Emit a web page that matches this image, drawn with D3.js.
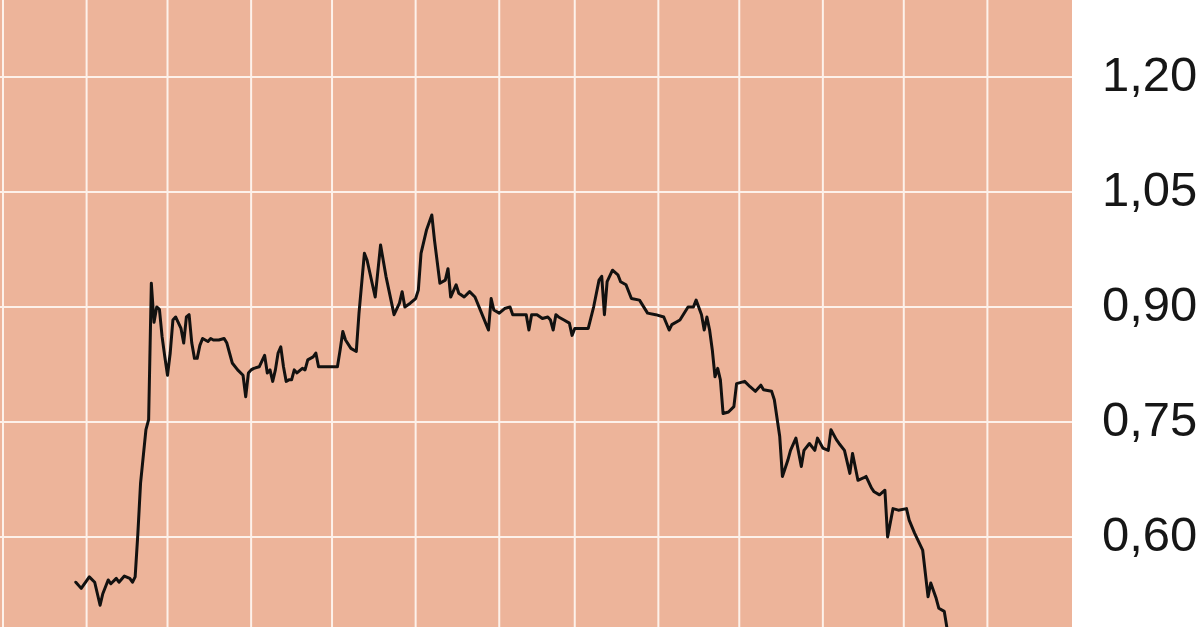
<!DOCTYPE html>
<html>
<head>
<meta charset="utf-8">
<script src="https://cdn.jsdelivr.net/npm/d3@7"></script>
<style>
html,body{margin:0;padding:0;background:#fff;overflow:hidden;}
svg{display:block;}
</style>
</head>
<body>
<svg id="chart" width="1200" height="627"></svg>
<script>
const dates = [
"2021-08-28","2021-08-30","2021-09-02","2021-09-04","2021-09-06","2021-09-07","2021-09-09","2021-09-10","2021-09-12","2021-09-13",
"2021-09-15","2021-09-17","2021-09-18","2021-09-19","2021-09-20","2021-09-21","2021-09-23","2021-09-24","2021-09-25","2021-09-26",
"2021-09-27","2021-09-28","2021-09-29","2021-09-30","2021-10-01","2021-10-02","2021-10-03","2021-10-04","2021-10-06","2021-10-07",
"2021-10-08","2021-10-09","2021-10-10","2021-10-11","2021-10-12","2021-10-13","2021-10-14","2021-10-16","2021-10-17","2021-10-18",
"2021-10-20","2021-10-22","2021-10-23","2021-10-24","2021-10-25","2021-10-27","2021-10-29","2021-10-30","2021-10-31","2021-11-01",
"2021-11-02","2021-11-04","2021-11-06","2021-11-07","2021-11-08","2021-11-09","2021-11-10","2021-11-11","2021-11-12","2021-11-13",
"2021-11-14","2021-11-15","2021-11-16","2021-11-17","2021-11-18","2021-11-20","2021-11-21","2021-11-22","2021-11-24","2021-11-25",
"2021-11-26","2021-12-03","2021-12-04","2021-12-05","2021-12-06","2021-12-08","2021-12-10","2021-12-11","2021-12-13","2021-12-14",
"2021-12-17","2021-12-19","2021-12-21","2021-12-24","2021-12-26","2021-12-27","2021-12-28","2021-12-30","2022-01-01","2022-01-02",
"2022-01-03","2022-01-05","2022-01-07","2022-01-08","2022-01-10","2022-01-12","2022-01-13","2022-01-14","2022-01-16","2022-01-17",
"2022-01-19","2022-01-21","2022-01-23","2022-01-25","2022-01-28","2022-01-29","2022-01-30","2022-02-01","2022-02-03","2022-02-05",
"2022-02-06","2022-02-11","2022-02-12","2022-02-13","2022-02-15","2022-02-17","2022-02-19","2022-02-20","2022-02-21","2022-02-22",
"2022-02-23","2022-02-25","2022-02-27","2022-02-28","2022-03-01","2022-03-06","2022-03-08","2022-03-10","2022-03-11","2022-03-12",
"2022-03-13","2022-03-15","2022-03-17","2022-03-18","2022-03-20","2022-03-22","2022-03-25","2022-03-28","2022-03-31","2022-04-03",
"2022-04-05","2022-04-06","2022-04-09","2022-04-12","2022-04-14","2022-04-15","2022-04-17","2022-04-18","2022-04-19","2022-04-20",
"2022-04-21","2022-04-22","2022-04-23","2022-04-24","2022-04-25","2022-04-27","2022-04-29","2022-04-30","2022-05-03","2022-05-05",
"2022-05-07","2022-05-09","2022-05-10","2022-05-13","2022-05-14","2022-05-16","2022-05-17","2022-05-19","2022-05-20","2022-05-22",
"2022-05-24","2022-05-25","2022-05-27","2022-05-29","2022-05-30","2022-06-01","2022-06-03","2022-06-04","2022-06-06","2022-06-07",
"2022-06-09","2022-06-11","2022-06-12","2022-06-14","2022-06-16","2022-06-17","2022-06-19","2022-06-20","2022-06-22","2022-06-24",
"2022-06-25","2022-06-27","2022-06-29","2022-07-02","2022-07-03","2022-07-05","2022-07-08","2022-07-10","2022-07-11","2022-07-13",
"2022-07-14","2022-07-16","2022-07-18"
];
const values = [
0.541,0.533,0.548,0.541,0.511,0.526,0.544,0.539,0.546,0.541,
0.549,0.546,0.541,0.548,0.604,0.670,0.740,0.753,0.931,0.880,
0.900,0.897,0.861,0.835,0.811,0.840,0.883,0.887,0.872,0.853,
0.887,0.890,0.853,0.833,0.833,0.850,0.859,0.855,0.859,0.857,
0.857,0.859,0.853,0.840,0.827,0.818,0.811,0.783,0.814,0.818,
0.820,0.822,0.837,0.814,0.818,0.803,0.818,0.840,0.848,0.822,
0.803,0.805,0.805,0.818,0.814,0.820,0.818,0.831,0.835,0.840,
0.822,0.822,0.844,0.868,0.857,0.846,0.842,0.892,0.970,0.961,
0.913,0.981,0.940,0.890,0.905,0.920,0.900,0.905,0.911,0.922,
0.970,1.000,1.020,0.987,0.931,0.935,0.950,0.913,0.929,0.918,
0.913,0.920,0.913,0.896,0.870,0.911,0.896,0.892,0.898,0.900,
0.890,0.890,0.870,0.890,0.890,0.885,0.887,0.883,0.870,0.890,
0.887,0.883,0.879,0.863,0.872,0.872,0.900,0.935,0.940,0.890,
0.933,0.948,0.942,0.933,0.929,0.911,0.909,0.892,0.890,0.887,
0.870,0.877,0.883,0.900,0.900,0.909,0.890,0.870,0.887,0.870,
0.844,0.809,0.820,0.805,0.761,0.763,0.770,0.800,0.803,0.796,
0.790,0.798,0.792,0.790,0.779,0.731,0.679,0.700,0.713,0.729,
0.692,0.713,0.722,0.713,0.729,0.716,0.713,0.740,0.727,0.722,
0.713,0.683,0.709,0.674,0.677,0.679,0.664,0.659,0.655,0.661,
0.600,0.637,0.635,0.637,0.622,0.605,0.583,0.522,0.540,0.520,
0.507,0.503,0.460
];
const gridValues = [1.35, 1.20, 1.05, 0.90, 0.75, 0.60, 0.45];
const yTicks = [1.20, 1.05, 0.90, 0.75, 0.60, 0.45];
const yTickLabels = ["1,20","1,05","0,90","0,75","0,60","0,45"];
const monthStarts = ["2021-08-01","2021-09-01","2021-10-01","2021-11-01","2021-12-01","2022-01-01","2022-02-01","2022-03-01","2022-04-01","2022-05-01","2022-06-01","2022-07-01","2022-08-01"];

const parse = d3.timeParse("%Y-%m-%d");
const data = dates.map((d,i)=>({date:parse(d), value:values[i]}));

const svg = d3.select("#chart");
const W = 1200, H = 627;
const plotRight = 1072;

const x = d3.scaleTime()
  .domain([parse("2021-08-01"), parse("2022-09-01")])
  .range([3, 1071]);
const y = d3.scaleLinear()
  .domain([0.45, 1.20])
  .range([652, 77]);

svg.append("rect").attr("x",0).attr("y",0).attr("width",W).attr("height",H).attr("fill","#ffffff");
svg.append("rect").attr("x",0).attr("y",0).attr("width",plotRight).attr("height",H).attr("fill","#edb49a");

const grid = svg.append("g");
grid.selectAll("line.v").data(monthStarts.map(parse)).enter().append("line")
  .attr("class","v")
  .attr("x1",d=>x(d)).attr("x2",d=>x(d))
  .attr("y1",0).attr("y2",H)
  .attr("stroke","#fdf1ea").attr("stroke-width",2);
grid.selectAll("line.h").data(gridValues).enter().append("line")
  .attr("class","h")
  .attr("x1",0).attr("x2",plotRight)
  .attr("y1",d=>y(d)).attr("y2",d=>y(d))
  .attr("stroke","#fdf1ea").attr("stroke-width",2);

const line = d3.line().x(d=>x(d.date)).y(d=>y(d.value)).curve(d3.curveLinear);
svg.append("path").datum(data)
  .attr("d",line)
  .attr("fill","none")
  .attr("stroke","#121110")
  .attr("stroke-width",3)
  .attr("stroke-linejoin","round")
  .attr("stroke-linecap","round");

svg.append("g").selectAll("text").data(yTicks).enter().append("text")
  .attr("x",1102)
  .attr("y",d=>y(d)+14)
  .attr("font-family","'Liberation Sans', Arial, Helvetica, sans-serif")
  .attr("font-size",49)
  .attr("fill","#161616")
  .text((d,i)=>yTickLabels[i]);
</script>
</body>
</html>
